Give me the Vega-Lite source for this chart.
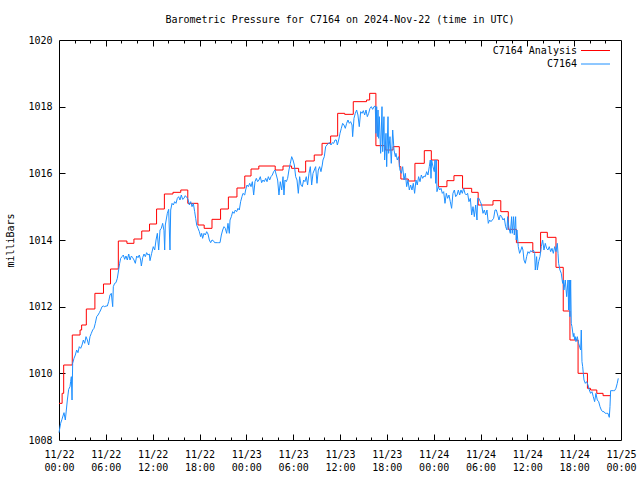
{
  "$schema": "https://vega.github.io/schema/vega-lite/v6.json",
  "width": 562,
  "height": 400,
  "autosize": "none",
  "padding": {"left": 59, "top": 40, "right": 19, "bottom": 40},
  "background": "white",
  "title": {"text": "Barometric Pressure for C7164 on 2024-Nov-22 (time in UTC)", "font": "DejaVu Sans Mono", "fontSize": 10, "fontWeight": "normal", "color": "black", "offset": 10},
  "config": {"view": {"stroke": "black", "strokeWidth": 1, "fill": "transparent"}, "font": "DejaVu Sans Mono"},
  "datasets": {
    "analysis": [{"h":0,"p":1009.1},{"h":0.4,"p":1009.4},{"h":0.6,"p":1010.25},{"h":1.7,"p":1011.15},{"h":2.7,"p":1011.3},{"h":2.9,"p":1011.45},{"h":3.5,"p":1011.93},{"h":4.6,"p":1012.4},{"h":5.7,"p":1012.68},{"h":6.6,"p":1013.13},{"h":7.6,"p":1013.97},{"h":8.7,"p":1013.9},{"h":9.6,"p":1014.03},{"h":10.6,"p":1014.27},{"h":11.6,"p":1014.48},{"h":12.5,"p":1014.93},{"h":13.5,"p":1015.38},{"h":14.6,"p":1015.43},{"h":15.6,"p":1015.5},{"h":16.5,"p":1015.1},{"h":17.8,"p":1014.45},{"h":18.6,"p":1014.35},{"h":19.6,"p":1014.62},{"h":20.7,"p":1014.93},{"h":21.7,"p":1015.29},{"h":22.8,"p":1015.56},{"h":23.8,"p":1015.92},{"h":24.6,"p":1016.13},{"h":25.6,"p":1016.22},{"h":27.7,"p":1016.1},{"h":28.7,"p":1016.22},{"h":29.8,"p":1016.15},{"h":30.7,"p":1016.04},{"h":31.6,"p":1016.37},{"h":32.7,"p":1016.55},{"h":33.7,"p":1016.9},{"h":34.8,"p":1017.12},{"h":35.7,"p":1017.8},{"h":36.6,"p":1017.77},{"h":37.7,"p":1018.15},{"h":39.4,"p":1018.2},{"h":39.8,"p":1018.4},{"h":40.6,"p":1016.83},{"h":41.8,"p":1016.7},{"h":42.8,"p":1016.8},{"h":43.6,"p":1016.2},{"h":43.8,"p":1015.83},{"h":44.75,"p":1015.77},{"h":45.6,"p":1016.3},{"h":46.8,"p":1016.68},{"h":47.7,"p":1016.4},{"h":48.6,"p":1015.6},{"h":49.7,"p":1015.78},{"h":50.6,"p":1015.93},{"h":51.7,"p":1015.55},{"h":52.87,"p":1015.43},{"h":53.7,"p":1015.05},{"h":55.6,"p":1015.18},{"h":56.6,"p":1014.85},{"h":57.56,"p":1014.32},{"h":58.6,"p":1013.92},{"h":60.7,"p":1013.63},{"h":61.7,"p":1014.23},{"h":62.56,"p":1014.08},{"h":63.67,"p":1013.18},{"h":64.6,"p":1011.87},{"h":65.46,"p":1011.0},{"h":66.5,"p":1010.0},{"h":67.7,"p":1009.55},{"h":68.1,"p":1009.5},{"h":68.9,"p":1009.4},{"h":69.7,"p":1009.33},{"h":70.7,"p":1009.33}],
    "obs": [{"h":0.0,"p":1008.22},{"h":0.21,"p":1008.5},{"h":0.38,"p":1008.62},{"h":0.64,"p":1008.82},{"h":0.81,"p":1008.6},{"h":0.94,"p":1008.9},{"h":1.07,"p":1009.2},{"h":1.24,"p":1009.52},{"h":1.41,"p":1009.6},{"h":1.49,"p":1009.75},{"h":1.58,"p":1009.9},{"h":1.67,"p":1009.2},{"h":1.75,"p":1010.3},{"h":1.92,"p":1010.45},{"h":2.09,"p":1010.55},{"h":2.26,"p":1010.7},{"h":2.43,"p":1010.62},{"h":2.6,"p":1010.8},{"h":2.78,"p":1010.75},{"h":2.95,"p":1010.85},{"h":3.12,"p":1011.0},{"h":3.29,"p":1010.9},{"h":3.46,"p":1011.1},{"h":3.63,"p":1011.0},{"h":3.8,"p":1010.85},{"h":3.97,"p":1011.1},{"h":4.14,"p":1011.2},{"h":4.31,"p":1011.3},{"h":4.48,"p":1011.35},{"h":4.65,"p":1011.5},{"h":4.83,"p":1011.7},{"h":5.0,"p":1011.75},{"h":5.17,"p":1011.82},{"h":5.34,"p":1011.9},{"h":5.51,"p":1012.0},{"h":5.68,"p":1012.02},{"h":5.85,"p":1012.0},{"h":6.02,"p":1012.02},{"h":6.19,"p":1012.02},{"h":6.36,"p":1012.15},{"h":6.53,"p":1012.35},{"h":6.7,"p":1012.4},{"h":6.88,"p":1012.0},{"h":6.96,"p":1012.6},{"h":7.13,"p":1012.7},{"h":7.3,"p":1012.72},{"h":7.47,"p":1012.85},{"h":7.64,"p":1013.1},{"h":7.77,"p":1013.3},{"h":7.9,"p":1013.45},{"h":8.07,"p":1013.5},{"h":8.24,"p":1013.55},{"h":8.41,"p":1013.42},{"h":8.58,"p":1013.52},{"h":8.75,"p":1013.4},{"h":8.93,"p":1013.58},{"h":9.1,"p":1013.4},{"h":9.27,"p":1013.52},{"h":9.44,"p":1013.47},{"h":9.61,"p":1013.4},{"h":9.78,"p":1013.3},{"h":9.95,"p":1013.52},{"h":10.12,"p":1013.47},{"h":10.29,"p":1013.55},{"h":10.46,"p":1013.4},{"h":10.55,"p":1013.22},{"h":10.72,"p":1013.47},{"h":10.89,"p":1013.58},{"h":11.06,"p":1013.5},{"h":11.23,"p":1013.62},{"h":11.4,"p":1013.55},{"h":11.57,"p":1013.58},{"h":11.66,"p":1013.38},{"h":11.87,"p":1013.6},{"h":12.08,"p":1013.8},{"h":12.26,"p":1013.7},{"h":12.43,"p":1014.0},{"h":12.6,"p":1014.2},{"h":12.77,"p":1013.7},{"h":12.94,"p":1014.3},{"h":13.11,"p":1014.35},{"h":13.28,"p":1014.5},{"h":13.45,"p":1014.28},{"h":13.54,"p":1013.7},{"h":13.62,"p":1014.45},{"h":13.88,"p":1014.8},{"h":14.05,"p":1014.92},{"h":14.22,"p":1013.7},{"h":14.31,"p":1014.9},{"h":14.48,"p":1015.1},{"h":14.65,"p":1015.05},{"h":14.82,"p":1015.15},{"h":14.99,"p":1015.1},{"h":15.16,"p":1015.25},{"h":15.33,"p":1015.3},{"h":15.5,"p":1015.2},{"h":15.67,"p":1015.35},{"h":15.84,"p":1015.22},{"h":16.01,"p":1015.25},{"h":16.18,"p":1015.33},{"h":16.36,"p":1015.28},{"h":16.53,"p":1015.22},{"h":16.7,"p":1015.05},{"h":16.87,"p":1015.15},{"h":17.04,"p":1015.0},{"h":17.21,"p":1015.1},{"h":17.38,"p":1014.85},{"h":17.51,"p":1014.65},{"h":17.64,"p":1014.45},{"h":17.81,"p":1014.35},{"h":17.98,"p":1014.25},{"h":18.15,"p":1014.1},{"h":18.28,"p":1014.2},{"h":18.4,"p":1014.05},{"h":18.58,"p":1014.2},{"h":18.75,"p":1014.15},{"h":18.92,"p":1014.25},{"h":19.09,"p":1014.18},{"h":19.26,"p":1014.0},{"h":19.43,"p":1013.92},{"h":19.6,"p":1014.0},{"h":19.77,"p":1013.98},{"h":19.94,"p":1013.92},{"h":20.11,"p":1013.92},{"h":20.28,"p":1013.92},{"h":20.45,"p":1013.92},{"h":20.63,"p":1013.92},{"h":20.8,"p":1014.15},{"h":20.97,"p":1014.3},{"h":21.14,"p":1014.4},{"h":21.31,"p":1014.35},{"h":21.48,"p":1014.2},{"h":21.65,"p":1014.5},{"h":21.82,"p":1014.2},{"h":21.91,"p":1014.6},{"h":22.08,"p":1014.7},{"h":22.25,"p":1014.85},{"h":22.42,"p":1014.8},{"h":22.59,"p":1014.9},{"h":22.76,"p":1014.85},{"h":22.93,"p":1014.95},{"h":23.1,"p":1014.9},{"h":23.27,"p":1015.15},{"h":23.44,"p":1015.3},{"h":23.57,"p":1015.4},{"h":23.79,"p":1015.35},{"h":23.91,"p":1015.5},{"h":24.08,"p":1015.65},{"h":24.26,"p":1015.6},{"h":24.43,"p":1015.7},{"h":24.6,"p":1015.6},{"h":24.77,"p":1015.75},{"h":24.94,"p":1015.35},{"h":25.11,"p":1015.75},{"h":25.28,"p":1015.85},{"h":25.45,"p":1015.75},{"h":25.62,"p":1015.8},{"h":25.79,"p":1015.9},{"h":25.96,"p":1015.72},{"h":26.13,"p":1015.8},{"h":26.3,"p":1015.75},{"h":26.48,"p":1015.85},{"h":26.65,"p":1015.75},{"h":26.82,"p":1015.9},{"h":26.99,"p":1015.8},{"h":27.16,"p":1015.9},{"h":27.33,"p":1015.95},{"h":27.5,"p":1016.05},{"h":27.67,"p":1016.1},{"h":27.84,"p":1015.95},{"h":28.01,"p":1015.8},{"h":28.18,"p":1015.35},{"h":28.35,"p":1015.75},{"h":28.53,"p":1015.5},{"h":28.7,"p":1015.9},{"h":28.82,"p":1015.35},{"h":28.95,"p":1015.8},{"h":29.12,"p":1015.75},{"h":29.29,"p":1015.85},{"h":29.46,"p":1016.1},{"h":29.64,"p":1016.3},{"h":29.81,"p":1016.5},{"h":29.98,"p":1016.4},{"h":30.15,"p":1016.25},{"h":30.32,"p":1015.9},{"h":30.49,"p":1015.8},{"h":30.66,"p":1015.4},{"h":30.83,"p":1015.9},{"h":31.0,"p":1015.65},{"h":31.17,"p":1015.6},{"h":31.34,"p":1015.8},{"h":31.51,"p":1015.75},{"h":31.68,"p":1015.9},{"h":31.85,"p":1015.65},{"h":32.03,"p":1016.0},{"h":32.2,"p":1016.2},{"h":32.37,"p":1015.65},{"h":32.54,"p":1016.0},{"h":32.71,"p":1016.1},{"h":32.88,"p":1016.2},{"h":33.05,"p":1015.7},{"h":33.22,"p":1016.1},{"h":33.39,"p":1016.2},{"h":33.56,"p":1016.05},{"h":33.73,"p":1016.25},{"h":33.82,"p":1016.4},{"h":33.99,"p":1016.5},{"h":34.16,"p":1016.8},{"h":34.33,"p":1016.85},{"h":34.5,"p":1016.9},{"h":34.67,"p":1016.92},{"h":34.85,"p":1016.85},{"h":35.02,"p":1016.92},{"h":35.19,"p":1016.9},{"h":35.36,"p":1017.0},{"h":35.53,"p":1017.0},{"h":35.66,"p":1016.85},{"h":35.83,"p":1017.0},{"h":36.0,"p":1017.2},{"h":36.17,"p":1017.35},{"h":36.34,"p":1017.5},{"h":36.51,"p":1017.45},{"h":36.68,"p":1017.35},{"h":36.85,"p":1017.5},{"h":37.02,"p":1017.6},{"h":37.19,"p":1017.5},{"h":37.36,"p":1017.55},{"h":37.54,"p":1017.45},{"h":37.62,"p":1017.1},{"h":37.79,"p":1017.65},{"h":37.96,"p":1017.8},{"h":38.13,"p":1017.9},{"h":38.3,"p":1017.75},{"h":38.47,"p":1017.4},{"h":38.65,"p":1017.85},{"h":38.82,"p":1017.8},{"h":38.99,"p":1017.88},{"h":39.16,"p":1017.75},{"h":39.33,"p":1017.9},{"h":39.5,"p":1017.7},{"h":39.67,"p":1017.8},{"h":39.84,"p":1017.95},{"h":40.01,"p":1018.0},{"h":40.18,"p":1017.92},{"h":40.35,"p":1018.0},{"h":40.52,"p":1018.02},{"h":40.61,"p":1017.2},{"h":40.7,"p":1018.0},{"h":40.78,"p":1017.1},{"h":40.87,"p":1017.9},{"h":40.95,"p":1017.05},{"h":41.04,"p":1017.7},{"h":41.21,"p":1016.6},{"h":41.38,"p":1018.0},{"h":41.47,"p":1016.65},{"h":41.63,"p":1017.7},{"h":41.72,"p":1016.4},{"h":41.89,"p":1017.2},{"h":41.98,"p":1016.2},{"h":42.15,"p":1017.7},{"h":42.23,"p":1016.6},{"h":42.4,"p":1017.1},{"h":42.57,"p":1016.3},{"h":42.75,"p":1017.3},{"h":42.92,"p":1016.7},{"h":43.09,"p":1016.5},{"h":43.17,"p":1016.6},{"h":43.34,"p":1016.4},{"h":43.51,"p":1016.5},{"h":43.68,"p":1016.1},{"h":43.86,"p":1016.0},{"h":44.03,"p":1016.2},{"h":44.2,"p":1015.8},{"h":44.37,"p":1016.0},{"h":44.54,"p":1015.6},{"h":44.71,"p":1015.8},{"h":44.88,"p":1015.5},{"h":45.05,"p":1015.65},{"h":45.22,"p":1015.5},{"h":45.39,"p":1015.7},{"h":45.56,"p":1015.4},{"h":45.73,"p":1015.8},{"h":45.9,"p":1015.65},{"h":46.07,"p":1015.9},{"h":46.25,"p":1015.75},{"h":46.42,"p":1015.95},{"h":46.59,"p":1015.85},{"h":46.76,"p":1015.92},{"h":46.93,"p":1015.9},{"h":47.1,"p":1016.05},{"h":47.27,"p":1015.95},{"h":47.44,"p":1016.2},{"h":47.57,"p":1016.4},{"h":47.66,"p":1015.85},{"h":47.74,"p":1016.4},{"h":47.91,"p":1016.2},{"h":48.08,"p":1016.05},{"h":48.17,"p":1016.4},{"h":48.25,"p":1015.7},{"h":48.34,"p":1016.4},{"h":48.42,"p":1015.45},{"h":48.6,"p":1015.6},{"h":48.77,"p":1015.5},{"h":48.94,"p":1015.55},{"h":49.11,"p":1015.4},{"h":49.28,"p":1015.45},{"h":49.45,"p":1015.1},{"h":49.62,"p":1015.4},{"h":49.79,"p":1015.25},{"h":49.96,"p":1015.35},{"h":50.13,"p":1015.15},{"h":50.3,"p":1014.95},{"h":50.47,"p":1015.4},{"h":50.65,"p":1015.5},{"h":50.82,"p":1015.3},{"h":50.99,"p":1015.35},{"h":51.16,"p":1015.5},{"h":51.33,"p":1015.35},{"h":51.5,"p":1015.5},{"h":51.67,"p":1015.4},{"h":51.84,"p":1015.55},{"h":52.01,"p":1015.4},{"h":52.18,"p":1015.35},{"h":52.35,"p":1015.4},{"h":52.52,"p":1015.15},{"h":52.7,"p":1015.25},{"h":52.87,"p":1014.75},{"h":53.04,"p":1015.0},{"h":53.21,"p":1014.7},{"h":53.38,"p":1015.05},{"h":53.55,"p":1014.6},{"h":53.63,"p":1015.25},{"h":53.8,"p":1015.25},{"h":53.97,"p":1015.15},{"h":54.15,"p":1015.05},{"h":54.32,"p":1014.8},{"h":54.49,"p":1014.9},{"h":54.66,"p":1014.75},{"h":54.83,"p":1014.9},{"h":55.0,"p":1014.5},{"h":55.17,"p":1014.6},{"h":55.34,"p":1014.55},{"h":55.51,"p":1014.6},{"h":55.68,"p":1014.65},{"h":55.86,"p":1014.9},{"h":56.03,"p":1014.9},{"h":56.2,"p":1014.75},{"h":56.37,"p":1014.6},{"h":56.54,"p":1014.75},{"h":56.71,"p":1014.7},{"h":56.88,"p":1014.6},{"h":57.05,"p":1014.65},{"h":57.22,"p":1014.4},{"h":57.39,"p":1014.3},{"h":57.48,"p":1014.7},{"h":57.65,"p":1014.35},{"h":57.82,"p":1014.2},{"h":57.99,"p":1014.7},{"h":58.07,"p":1014.2},{"h":58.24,"p":1014.7},{"h":58.33,"p":1014.15},{"h":58.5,"p":1014.7},{"h":58.58,"p":1014.0},{"h":58.67,"p":1014.3},{"h":58.84,"p":1013.8},{"h":59.01,"p":1013.6},{"h":59.18,"p":1013.7},{"h":59.31,"p":1013.8},{"h":59.44,"p":1013.7},{"h":59.57,"p":1013.4},{"h":59.74,"p":1013.3},{"h":59.91,"p":1013.5},{"h":60.08,"p":1013.65},{"h":60.25,"p":1013.6},{"h":60.42,"p":1013.68},{"h":60.6,"p":1013.65},{"h":60.77,"p":1013.7},{"h":60.94,"p":1013.6},{"h":61.02,"p":1013.1},{"h":61.19,"p":1013.5},{"h":61.28,"p":1013.1},{"h":61.45,"p":1013.35},{"h":61.62,"p":1013.5},{"h":61.79,"p":1013.8},{"h":61.96,"p":1014.0},{"h":62.13,"p":1013.7},{"h":62.3,"p":1013.9},{"h":62.47,"p":1013.75},{"h":62.64,"p":1013.7},{"h":62.81,"p":1013.8},{"h":62.99,"p":1013.65},{"h":63.16,"p":1013.75},{"h":63.33,"p":1013.6},{"h":63.5,"p":1013.8},{"h":63.67,"p":1013.65},{"h":63.84,"p":1013.9},{"h":63.93,"p":1013.6},{"h":64.01,"p":1013.3},{"h":64.18,"p":1013.1},{"h":64.35,"p":1013.0},{"h":64.52,"p":1012.7},{"h":64.61,"p":1012.8},{"h":64.69,"p":1012.5},{"h":64.86,"p":1012.8},{"h":65.04,"p":1012.3},{"h":65.21,"p":1012.8},{"h":65.29,"p":1011.9},{"h":65.38,"p":1012.8},{"h":65.46,"p":1011.7},{"h":65.55,"p":1012.8},{"h":65.63,"p":1011.5},{"h":65.72,"p":1011.4},{"h":65.89,"p":1011.1},{"h":65.97,"p":1011.2},{"h":66.06,"p":1011.0},{"h":66.14,"p":1011.1},{"h":66.23,"p":1010.95},{"h":66.4,"p":1011.1},{"h":66.57,"p":1010.9},{"h":66.83,"p":1010.7},{"h":66.91,"p":1011.3},{"h":67.0,"p":1010.35},{"h":67.09,"p":1010.2},{"h":67.17,"p":1010.0},{"h":67.26,"p":1009.8},{"h":67.43,"p":1009.7},{"h":67.6,"p":1009.75},{"h":67.77,"p":1009.65},{"h":67.94,"p":1009.5},{"h":68.11,"p":1009.4},{"h":68.28,"p":1009.45},{"h":68.45,"p":1009.3},{"h":68.62,"p":1009.15},{"h":68.79,"p":1009.4},{"h":68.96,"p":1009.2},{"h":69.14,"p":1009.15},{"h":69.31,"p":1009.0},{"h":69.48,"p":1008.9},{"h":69.65,"p":1008.85},{"h":69.82,"p":1008.85},{"h":69.99,"p":1008.8},{"h":70.16,"p":1008.8},{"h":70.33,"p":1008.8},{"h":70.5,"p":1008.68},{"h":70.59,"p":1009.0},{"h":70.67,"p":1009.48},{"h":70.84,"p":1009.48},{"h":71.01,"p":1009.48},{"h":71.18,"p":1009.48},{"h":71.35,"p":1009.55},{"h":71.52,"p":1009.7},{"h":71.65,"p":1009.85}]
  },
  "layer": [
    {
      "data": {"name": "obs"},
      "mark": {"type": "line", "strokeWidth": 1, "opacity": 0},
      "encoding": {
        "x": {"field": "h", "type": "quantitative", "scale": {"domain": [0, 72], "nice": false, "zero": false},
          "axis": {"orient": "bottom", "title": null, "labels": false, "ticks": false, "domain": false, "grid": true, "gridColor": "black", "gridOpacity": 1, "gridWidth": 1, "gridDash": [6, 388, 6, 1000], "values": [6,12,18,24,30,36,42,48,54,60,66]}},
        "y": {"field": "p", "type": "quantitative", "scale": {"domain": [1008, 1020], "nice": false, "zero": false},
          "axis": {"orient": "left", "title": null, "labels": false, "ticks": false, "domain": false, "grid": true, "gridColor": "black", "gridOpacity": 1, "gridWidth": 1, "gridDash": [6, 550, 6, 1000], "values": [1010,1012,1014,1016,1018]}}
      }
    },
    {
      "data": {"name": "obs"},
      "mark": {"type": "line", "strokeWidth": 1, "opacity": 0},
      "encoding": {
        "x": {"field": "h", "type": "quantitative",
          "axis": {"orient": "top", "title": null, "labels": false, "ticks": false, "domain": false, "grid": true, "gridColor": "black", "gridOpacity": 1, "gridWidth": 1, "gridDash": [3, 394, 3, 1000], "values": [2,4,8,10,14,16,20,22,26,28,32,34,38,40,44,46,50,52,56,58,62,64,68,70]}},
        "y": {"field": "p", "type": "quantitative", "axis": null}
      }
    },
    {
      "data": {"name": "analysis"},
      "mark": {"type": "line", "interpolate": "step-after", "strokeWidth": 1},
      "encoding": {
        "x": {"field": "h", "type": "quantitative",
          "axis": {"orient": "bottom", "title": null, "values": [0,6,12,18,24,30,36,42,48,54,60,66,72], "domain": false, "grid": false, "ticks": false, "labelExpr": "['11/' + (22 + floor(datum.value / 24)), (datum.value % 24 < 10 ? '0' : '') + (datum.value % 24) + ':00']", "labelFont": "DejaVu Sans Mono", "labelFontSize": 10, "labelColor": "black", "labelPadding": 9, "labelLineHeight": 13, "labelOverlap": false, "labelFlush": false, "labelBound": false}},
        "y": {"field": "p", "type": "quantitative",
          "axis": {"orient": "left", "title": "milliBars", "titleFont": "DejaVu Sans Mono", "titleFontSize": 10, "titleFontWeight": "normal", "titleColor": "black", "titlePadding": 12, "values": [1008,1010,1012,1014,1016,1018,1020], "format": "d", "domain": false, "grid": false, "ticks": false, "labelFont": "DejaVu Sans Mono", "labelFontSize": 10, "labelColor": "black", "labelPadding": 7, "labelOverlap": false, "labelFlush": false}},
        "color": {"datum": "C7164 Analysis", "type": "nominal", "scale": {"domain": ["C7164 Analysis", "C7164"], "range": ["#ff0000", "#1e90ff"]},
          "legend": {"title": null, "orient": "none", "legendX": 529, "legendY": 3, "padding": 0, "symbolType": "M-2.07,0H2.07", "symbolSize": 196, "symbolStrokeWidth": 1, "labelFont": "DejaVu Sans Mono", "labelFontSize": 10, "labelColor": "black", "labelAlign": "right", "labelOffset": -26, "rowPadding": 0.5}}
      }
    },
    {
      "data": {"name": "obs"},
      "mark": {"type": "line", "strokeWidth": 1},
      "encoding": {
        "x": {"field": "h", "type": "quantitative", "axis": null},
        "y": {"field": "p", "type": "quantitative", "axis": null},
        "color": {"datum": "C7164", "type": "nominal"}
      }
    }
  ],
  "resolve": {"axis": {"x": "independent", "y": "independent"}}
}
